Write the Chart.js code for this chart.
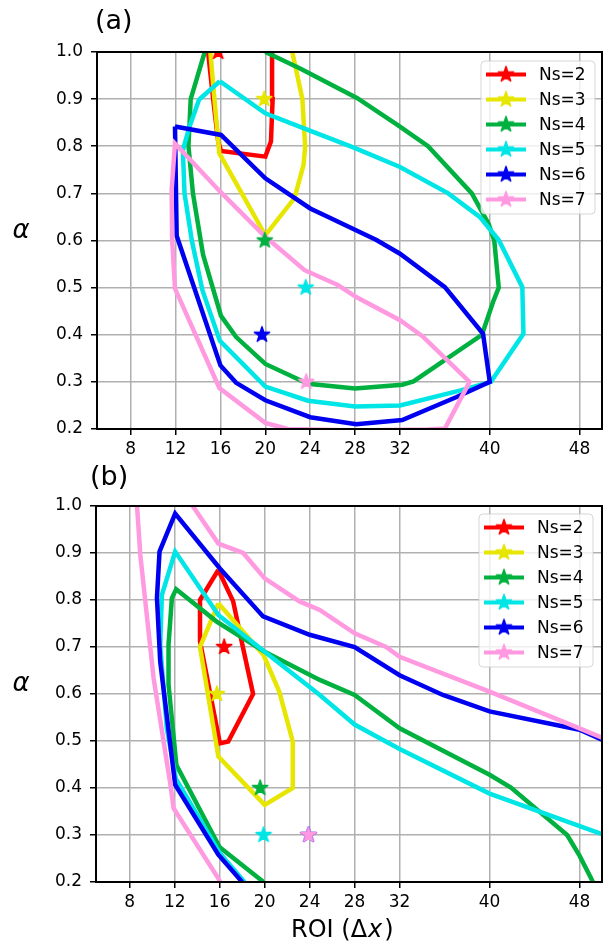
<!DOCTYPE html>
<html>
<head>
<meta charset="utf-8">
<script src="https://cdn.jsdelivr.net/npm/chart.js@4.4.0/dist/chart.umd.min.js"></script>
<style>
  html, body { margin: 0; padding: 0; background: #fff; }
  canvas { display: block; }
</style>
</head>
<body>
<canvas id="chartA" width="604" height="460"></canvas>
<canvas id="chartB" width="604" height="489"></canvas>
<script>
// axis ticks
const xTicks = [8, 12, 16, 20, 24, 28, 32, 40, 48];
const yTicks = [0.2, 0.3, 0.4, 0.5, 0.6, 0.7, 0.8, 0.9, 1.0];

const seriesLabels = ['Ns=2', 'Ns=3', 'Ns=4', 'Ns=5', 'Ns=6', 'Ns=7'];
const seriesColors = ['#ff0000', '#e6e600', '#00b140', '#00e5e5', '#0000f0', '#ff99e0'];

// panel (a): contour lines [ROI, alpha]
const aNs2 = [[14.9, 1.0], [15.35, 0.9], [15.8, 0.81], [16.05, 0.79], [20.0, 0.778], [20.5, 0.81], [20.65, 0.9], [20.6, 1.0]];
const aNs3 = [[15.1, 1.0], [15.5, 0.89], [15.9, 0.785], [20.0, 0.611], [22.6, 0.69], [23.4, 0.76], [23.55, 0.8], [23.3, 0.9], [22.4, 1.0]];
const aNs4 = [[14.6, 1.0], [13.35, 0.9], [13.15, 0.8], [13.55, 0.7], [14.45, 0.57], [16.05, 0.44], [17.4, 0.395], [20.0, 0.338],
              [23.8, 0.296], [28.0, 0.286], [32.2, 0.294], [33.2, 0.301], [39.3, 0.4], [40.3, 0.47], [40.8, 0.5], [40.4, 0.6],
              [39.9, 0.635], [38.4, 0.7], [34.5, 0.8], [31.8, 0.845], [28.2, 0.902], [23.1, 0.965], [20.0, 1.0]];
const aNs5 = [[15.95, 0.938], [14.1, 0.899], [13.25, 0.842], [12.65, 0.792], [12.8, 0.7], [13.45, 0.6], [14.4, 0.494], [15.95, 0.387],
              [20.0, 0.29], [23.8, 0.26], [28.0, 0.248], [32.0, 0.25], [37.4, 0.282], [40.1, 0.3], [43.0, 0.402], [42.9, 0.501],
              [40.8, 0.601], [39.1, 0.65], [36.3, 0.7], [32.0, 0.756], [28.0, 0.796], [23.1, 0.841], [20.0, 0.87], [15.95, 0.938]];
const aNs6 = [[11.95, 0.842], [16.05, 0.824], [20.0, 0.732], [24.0, 0.668], [25.6, 0.65], [29.9, 0.601], [32.0, 0.572], [36.0, 0.501],
              [39.4, 0.402], [40.0, 0.3], [37.05, 0.268], [32.2, 0.219], [28.1, 0.21], [24.0, 0.225], [20.0, 0.261], [17.4, 0.298],
              [16.0, 0.335], [12.1, 0.61], [11.95, 0.842]];
const aNs7 = [[36.0, 0.201], [38.2, 0.3], [34.0, 0.397], [32.0, 0.431], [28.1, 0.48], [26.5, 0.505], [23.5, 0.537], [20.0, 0.608],
              [16.0, 0.703], [11.95, 0.806], [11.65, 0.707], [11.7, 0.6], [11.95, 0.498], [15.9, 0.287], [20.0, 0.213], [22.0, 0.2],
              [28.0, 0.197], [34.4, 0.199], [36.0, 0.201]];
const aStars = [[15.8, 1.0], [19.9, 0.9], [19.95, 0.6], [23.6, 0.5], [19.7, 0.4], [23.65, 0.3]];

// panel (b)
const bNs2 = [[15.88, 0.864], [14.25, 0.8], [14.25, 0.712], [16.02, 0.495], [16.76, 0.499], [18.97, 0.6], [18.09, 0.697], [17.2, 0.797], [15.88, 0.864]];
const bNs3 = [[15.88, 0.793], [14.25, 0.7], [15.88, 0.467], [20.0, 0.364], [22.5, 0.4], [22.5, 0.499], [21.3, 0.605], [19.9, 0.683], [15.88, 0.793]];
const bNs4 = [[19.9, 0.2], [16.0, 0.274], [12.15, 0.449], [11.45, 0.62], [11.45, 0.705], [11.75, 0.804], [12.13, 0.823], [15.73, 0.754],
              [20.0, 0.69], [24.9, 0.63], [28.0, 0.598], [32.0, 0.527], [40.0, 0.428], [41.9, 0.401], [46.9, 0.3], [48.0, 0.256], [49.2, 0.2]];
const bNs5 = [[18.2, 0.2], [16.0, 0.262], [12.1, 0.42], [11.3, 0.527], [10.71, 0.704], [10.86, 0.811], [12.04, 0.903], [15.88, 0.768],
              [20.0, 0.69], [24.9, 0.598], [28.0, 0.535], [32.0, 0.483], [40.0, 0.388], [50.0, 0.302]];
const bNs6 = [[18.0, 0.2], [15.88, 0.258], [12.04, 0.407], [10.71, 0.669], [10.42, 0.804], [10.65, 0.903], [12.04, 0.984], [16.02, 0.867],
              [19.86, 0.765], [24.0, 0.726], [28.0, 0.7], [32.0, 0.64], [35.85, 0.598], [40.0, 0.563], [48.0, 0.524], [50.0, 0.503]];
const bNs7 = [[16.5, 0.17], [15.9, 0.207], [11.9, 0.357], [11.6, 0.41], [10.12, 0.634], [8.94, 0.896], [8.65, 1.0], [11.0, 1.1], [13.6, 1.0],
              [15.88, 0.92], [18.09, 0.9], [20.0, 0.846], [23.1, 0.797], [24.9, 0.779], [28.0, 0.729], [30.8, 0.7], [32.0, 0.679],
              [40.0, 0.605], [48.0, 0.527], [50.0, 0.507]];
const bStars = [[16.4, 0.7], [15.75, 0.6], [19.6, 0.4], [19.9, 0.3], [23.9, 0.3], [23.9, 0.3]];

const FONT = '"DejaVu Sans", sans-serif';

// filled five point star, like matplotlib's '*' marker
function starImage(color) {
    const size = 22, r = 8;
    const c = document.createElement('canvas');
    c.width = size; c.height = size;
    const g = c.getContext('2d');
    g.beginPath();
    for (let i = 0; i < 10; i++) {
        const rad = i % 2 ? r * 0.382 : r;
        const ang = -Math.PI / 2 + i * Math.PI / 5;
        const px = size / 2 + rad * Math.cos(ang);
        const py = size / 2 + rad * Math.sin(ang);
        if (i === 0) g.moveTo(px, py); else g.lineTo(px, py);
    }
    g.closePath();
    g.fillStyle = color;
    g.fill();
    g.strokeStyle = color;
    g.lineWidth = 1.5;
    g.lineJoin = 'round';
    g.stroke();
    return c;
}
const starImgs = seriesColors.map(starImage);

// frame, legend, panel letter, alpha label and x label
const decor = {
    id: 'decor',
    afterDatasetsDraw(chart, args, o) {
        const ctx = chart.ctx;
        const a = chart.chartArea;
        ctx.save();
        ctx.strokeStyle = '#000';
        ctx.lineWidth = 2;
        ctx.strokeRect(a.left, a.top, a.right - a.left, a.bottom - a.top);

        // legend
        const bx = a.right - o.legendRight - 114, by = a.top + o.legendTop;
        ctx.beginPath();
        ctx.roundRect(bx, by, 114, 153, 4);
        ctx.fillStyle = 'rgba(255,255,255,0.8)';
        ctx.fill();
        ctx.strokeStyle = 'rgba(204,204,204,0.8)';
        ctx.lineWidth = 1;
        ctx.stroke();
        ctx.font = '17px ' + FONT;
        ctx.textBaseline = 'middle';
        ctx.textAlign = 'left';
        seriesLabels.forEach((lab, i) => {
            const y = by + 13.5 + i * 25;
            ctx.strokeStyle = seriesColors[i];
            ctx.lineWidth = 4;
            ctx.beginPath();
            ctx.moveTo(bx + 5, y);
            ctx.lineTo(bx + 45, y);
            ctx.stroke();
            ctx.drawImage(starImgs[i], bx + 25 - 11, y - 11);
            ctx.fillStyle = '#000';
            ctx.fillText(lab, bx + 58, y + 1);
        });

        // panel letter
        ctx.fillStyle = '#000';
        ctx.font = '27px ' + FONT;
        ctx.textBaseline = 'middle';
        ctx.fillText(o.panel, o.panelX, o.panelY);

        // alpha label
        ctx.font = 'italic 26px ' + FONT;
        ctx.textAlign = 'center';
        ctx.textBaseline = 'alphabetic';
        ctx.fillText('α', 21, (a.top + a.bottom) / 2 - 3);

        // x label
        if (o.xlabel) {
            ctx.textAlign = 'left';
            ctx.font = '24px ' + FONT;
            let x = 291;
            const y = a.bottom + 55;
            ctx.fillText('ROI (Δ', x, y);
            x += ctx.measureText('ROI (Δ').width + 1;
            ctx.font = 'italic 24px ' + FONT;
            ctx.fillText('x', x, y);
            x += ctx.measureText('x').width + 2;
            ctx.font = '24px ' + FONT;
            ctx.fillText(')', x, y);
        }
        ctx.restore();
    }
};

function makeChart(id, lines, stars, cfg) {
    const datasets = [];
    lines.forEach((pts, i) => {
        datasets.push({
            label: seriesLabels[i],
            data: pts.map(([x, y]) => ({ x, y })),
            showLine: true,
            borderColor: seriesColors[i],
            borderWidth: 4.5,
            pointRadius: 0,
            fill: false,
            clip: 0,
            order: 100 - i
        });
    });
    stars.forEach(([x, y], i) => {
        datasets.push({
            label: seriesLabels[i] + ' best',
            data: [{ x, y }],
            showLine: false,
            pointStyle: starImgs[i],
            pointRadius: 9,
            clip: 0,
            order: 50 - i
        });
    });

    return new Chart(document.getElementById(id), {
        type: 'scatter',
        data: { datasets },
        options: {
            responsive: false,
            animation: false,
            events: [],
            layout: { autoPadding: false, padding: { top: cfg.top, right: 2, left: 0, bottom: 0 } },
            plugins: {
                legend: { display: false },
                tooltip: { enabled: false },
                decor: cfg
            },
            scales: {
                x: {
                    type: 'linear',
                    min: 5,
                    max: 50,
                    afterBuildTicks: s => { s.ticks = xTicks.map(v => ({ value: v })); },
                    afterFit: s => { s.height = cfg.xHeight; s.paddingLeft = 0; s.paddingRight = 0; },
                    ticks: { autoSkip: false, maxRotation: 0, color: '#000', padding: 4, font: { family: FONT, size: 17 } },
                    grid: { color: '#b0b0b0', lineWidth: 1.5, tickColor: '#000', tickLength: 6, tickWidth: 1.5 },
                    border: { display: false }
                },
                y: {
                    type: 'linear',
                    min: 0.2,
                    max: 1.0,
                    afterBuildTicks: s => { s.ticks = yTicks.map(v => ({ value: v })); },
                    afterFit: s => { s.width = cfg.yWidth; s.paddingTop = 0; s.paddingBottom = 0; },
                    ticks: { color: '#000', padding: 8, font: { family: FONT, size: 17 }, callback: v => v.toFixed(1) },
                    grid: { color: '#b0b0b0', lineWidth: 1.5, tickColor: '#000', tickLength: 6, tickWidth: 1.5 },
                    border: { display: false }
                }
            }
        },
        plugins: [decor]
    });
}

makeChart('chartA', [aNs2, aNs3, aNs4, aNs5, aNs6, aNs7], aStars,
    { top: 52, xHeight: 31, yWidth: 97, legendRight: 7, legendTop: 9, panel: '(a)', panelX: 95, panelY: 22, xlabel: false });
makeChart('chartB', [bNs2, bNs3, bNs4, bNs5, bNs6, bNs7], bStars,
    { top: 46, xHeight: 67, yWidth: 96, legendRight: 9, legendTop: 8, panel: '(b)', panelX: 90, panelY: 18, xlabel: true });
</script>
</body>
</html>
